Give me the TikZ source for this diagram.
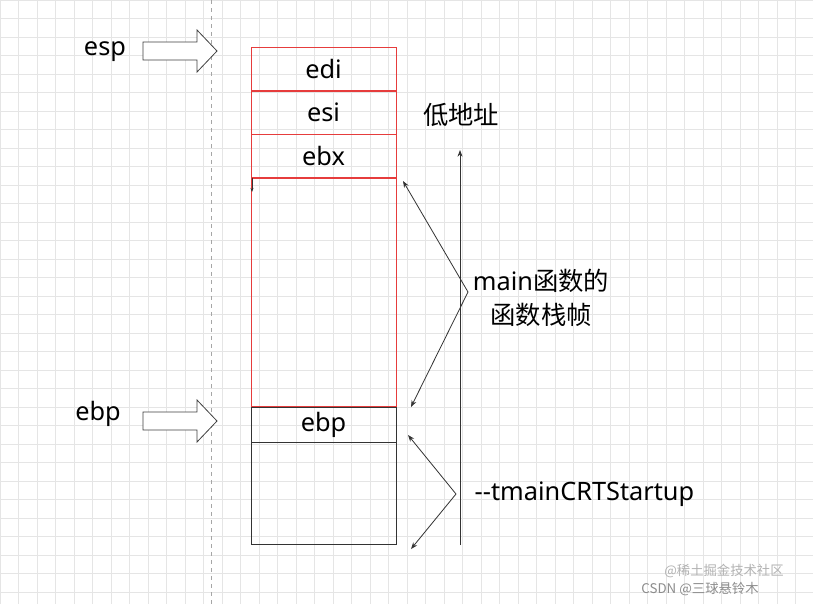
\documentclass[tikz,border=0pt]{standalone}
\usepackage{fontspec}
\setmainfont{Noto Sans}
\newfontfamily\cjk{Noto Sans CJK SC}
\usetikzlibrary{arrows.meta}
\begin{document}
\begin{tikzpicture}[x=0.75pt,y=-0.75pt,
  redc/.style={draw={rgb,255:red,230;green,60;blue,60},line width=0.5pt},
  box/.style={redc,minimum width=108.75pt,minimum height=32.5pt,inner sep=0pt,font=\fontsize{19}{21}\selectfont},
  lbl/.style={font=\fontsize{19}{21}\selectfont},
  blk/.style={draw=black!75,fill=white,line width=0.6pt},
  thin arrow/.style={-{Stealth[length=5pt]},black!80,line width=0.6pt}]
\fill[white] (0,0) rectangle (813,604);
\useasboundingbox (0,0) rectangle (813,604);
\foreach \i in {0,...,44} {\draw[black!10,line width=0.4pt] (\i*18.5,0) -- (\i*18.5,604);}
\foreach \j in {0,...,33} {\draw[black!10,line width=0.4pt] (0,\j*18.5) -- (813,\j*18.5);}
\draw[black!35,dashed] (211,0) -- (211,604);
% stack
\node[box] (edi) at (323.5,69) {edi};
\node[box] (esi) at (323.5,112.5) {esi};
\node[box] (ebx) at (323.5,156) {ebx};
\node[redc,minimum width=108.75pt,minimum height=171.75pt,inner sep=0pt] (frame) at (323.5,292.5) {};
\node[draw=black!80,minimum width=108.75pt,minimum height=26.25pt,inner sep=0pt,lbl] (ebpbox) at (323.5,424.5) {ebp};
\node[draw=black!80,minimum width=108.75pt,minimum height=76.5pt,inner sep=0pt] (crt) at (323.5,493) {};
\draw[redc] (ebpbox.north west) -- (ebpbox.north east);
\coordinate (sa) at (252,178); \coordinate (sb) at (252,192);
\draw[thin arrow,-{Stealth[length=3pt]}] (sa) -- (sb);
% side arrows
\draw[blk] (143,42) -- (197,42) -- (197,30) -- (217,51) -- (197,72) -- (197,60) -- (143,60) -- cycle;
\draw[blk] (143,412) -- (197,412) -- (197,400) -- (217,421) -- (197,442) -- (197,430) -- (143,430) -- cycle;
\node[lbl] (esp) at (105,52) {esp};
\node[lbl] (ebp) at (98,414) {ebp};
% address axis
\coordinate (ax0) at (460,545); \coordinate (ax1) at (460,150);
\draw[thin arrow] (ax0) -- (ax1);
\node[font=\cjk\fontsize{19}{21}\selectfont] (low) at (461,115) {低地址};
% braces
\coordinate (m) at (468,292);
\coordinate (m1) at (403,181); \coordinate (m2) at (411,407);
\draw[thin arrow] (m) -- (m1);
\draw[thin arrow] (m) -- (m2);
\node[align=center,font=\fontsize{19}{26}\selectfont] (mainlbl) at (541,298) {main{\cjk 函数的}\\{\cjk 函数栈帧}};
\coordinate (t) at (456,494);
\coordinate (t1) at (408,435); \coordinate (t2) at (411,549);
\draw[thin arrow] (t) -- (t1);
\draw[thin arrow] (t) -- (t2);
\node[lbl,anchor=west] (tmain) at (470,494) {-{}-tmainCRTStartup};
% watermark
\node[black!30,font=\cjk\fontsize{10}{12}\selectfont] (wm1) at (724,571) {@稀土掘金技术社区};
\node[black!45,font=\cjk\fontsize{10}{12}\selectfont] (wm2) at (700,589) {CSDN @三球悬铃木};
\end{tikzpicture}
\end{document}
